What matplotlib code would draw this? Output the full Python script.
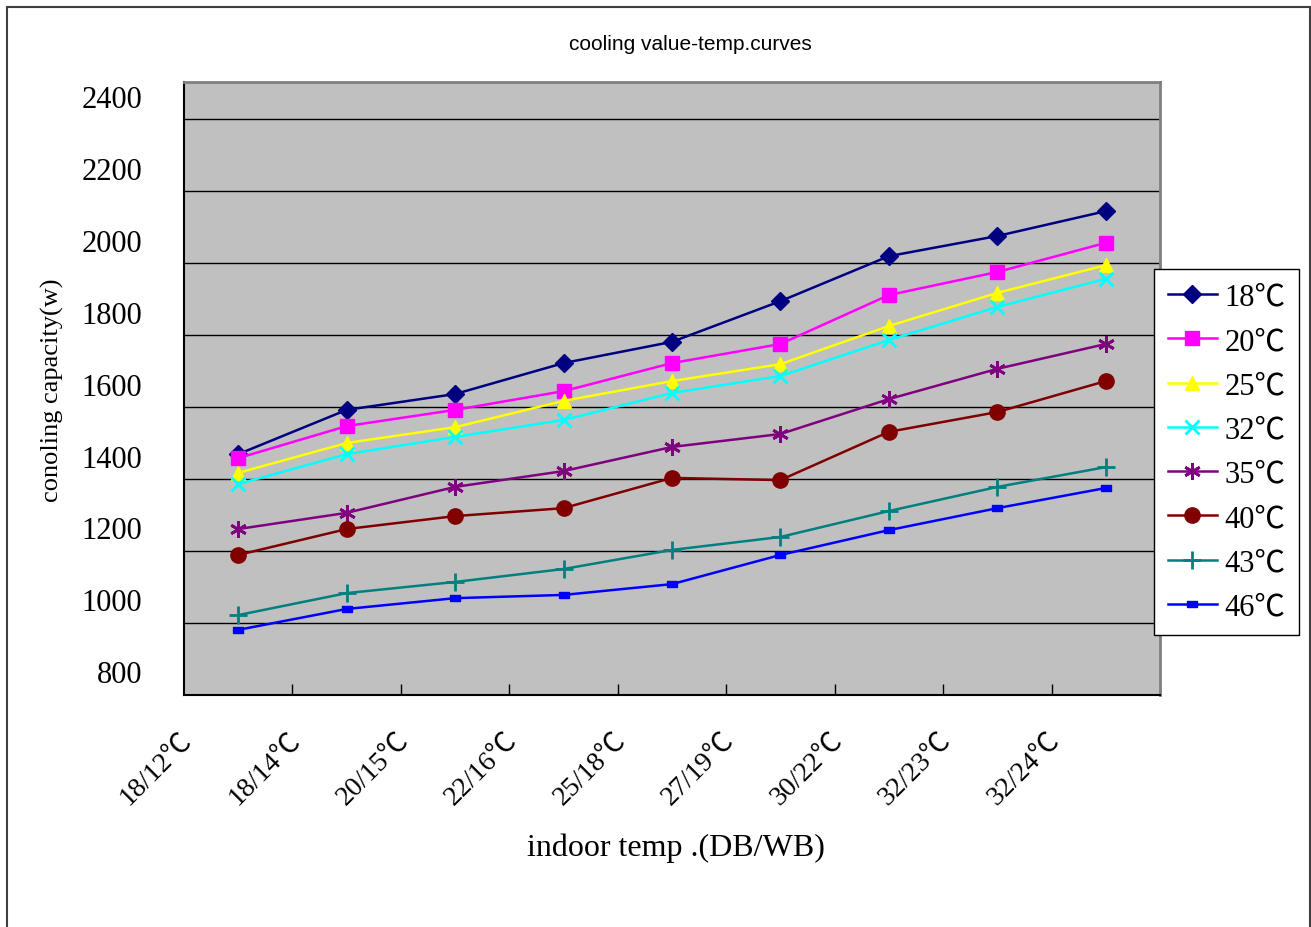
import numpy as np
import matplotlib
matplotlib.use("Agg")
import matplotlib.pyplot as plt
from matplotlib.patches import Rectangle
from matplotlib.transforms import ScaledTranslation

# indoor temp (DB/WB) labels and outdoor temps
x_labels = ["18/12℃", "18/14℃", "20/15℃", "22/16℃", "25/18℃",
            "27/19℃", "30/22℃", "32/23℃", "32/24℃"]
series_names = ["18℃", "20℃", "25℃", "32℃", "35℃", "40℃", "43℃", "46℃"]

cap_18 = [1469, 1592, 1636, 1722, 1781, 1894, 2019, 2075, 2144]
cap_20 = [1458, 1547, 1592, 1644, 1722, 1775, 1911, 1975, 2056]
cap_25 = [1417, 1500, 1544, 1617, 1672, 1719, 1825, 1917, 1994]
cap_32 = [1386, 1469, 1517, 1564, 1639, 1686, 1786, 1878, 1956]
cap_35 = [1261, 1306, 1378, 1422, 1489, 1525, 1622, 1706, 1775]
cap_40 = [1189, 1261, 1297, 1319, 1403, 1397, 1531, 1586, 1672]
cap_43 = [1022, 1083, 1114, 1150, 1203, 1239, 1311, 1378, 1433]
cap_46 = [981, 1039, 1069, 1078, 1108, 1189, 1258, 1319, 1375]

y_ticks = [800, 1000, 1200, 1400, 1600, 1800, 2000, 2200, 2400]

serif = ["Liberation Serif", "Noto Sans CJK SC", "DejaVu Sans"]

rect_marker = [(-1, -0.6), (1, -0.6), (1, 0.6), (-1, 0.6), (-1, -0.6)]
styles = [
    ("#000080", "D", 9, 1),
    ("#FF00FF", "s", 10, 1),
    ("#FFFF00", "^", 10, 1),
    ("#00FFFF", "x", 10, 2),
    ("#800080", (6, 2, 0), 12, 2),
    ("#800000", "o", 11, 1),
    ("#008080", "+", 13, 2),
    ("#0000FF", rect_marker, 7, 1),
]
all_series = [cap_18, cap_20, cap_25, cap_32, cap_35, cap_40, cap_43, cap_46]

fig = plt.figure(figsize=(13.11, 9.28), dpi=100)
ax = fig.add_axes([184/1311, 1-696/928, 976/1311, 613/928])
ax.set_facecolor("#C0C0C0")

x = np.arange(len(x_labels))
for vals, name, (col, mk, ms, mew) in zip(all_series, series_names, styles):
    ax.plot(x, vals, color=col, lw=1.8, marker=mk, ms=ms, mew=mew,
            mec=col, mfc=col, label=name)

ax.set_xlim(-0.5, 8.5)
ax.set_ylim(800, 800 + 613*200/72)

# gridlines
ax.set_yticks(y_ticks)
ax.set_yticklabels([])
ax.tick_params(axis="y", length=0)
ax.grid(axis="y", color="black", lw=1)
ax.set_axisbelow(True)

# y labels sit above their gridlines
off = ScaledTranslation(0, 20/100, fig.dpi_scale_trans)
for v in y_ticks:
    ax.text(-42/976, v, str(v), transform=ax.get_yaxis_transform() + off,
            ha="right", va="center", fontsize=22, family=serif)

# x ticks
ax.set_xticks(x - 0.38)
ax.set_xticklabels(x_labels, rotation=45, ha="right", va="top",
                   fontsize=20, family=serif)
ax.tick_params(axis="x", which="major", length=0, pad=23)
ax.set_xticks(np.arange(0.5, 8, 1), minor=True)
ax.tick_params(axis="x", which="minor", direction="in", length=8,
               width=1, color="black")

for s in ["left", "bottom"]:
    ax.spines[s].set_color("black")
    ax.spines[s].set_linewidth(1.5)
for s in ["top", "right"]:
    ax.spines[s].set_color("#808080")
    ax.spines[s].set_linewidth(2)

leg = fig.legend(loc="upper left", bbox_to_anchor=(1154/1311, 1-270/928),
                 bbox_transform=fig.transFigure, frameon=True, fancybox=False,
                 prop={"family": serif, "size": 22}, handlelength=1.6,
                 handletextpad=0.25, labelspacing=0.5, borderpad=0.45,
                 borderaxespad=0)
leg.get_frame().set_edgecolor("black")
leg.get_frame().set_linewidth(1)
leg.get_frame().set_alpha(1)

fig.text(690/1311, 1-45/928, "cooling value-temp.curves", ha="center",
         va="center", fontsize=15, family="Liberation Sans")
fig.text(52/1311, 1-390/928, "conoling capacity(w)", rotation=90,
         ha="center", va="center", fontsize=19, family=serif)
fig.text(676/1311, 1-848/928, "indoor temp .(DB/WB)", ha="center",
         va="center", fontsize=23, family=serif)

fig.patches.append(Rectangle((7/1311, -0.02), 1303/1311, 1-8/928+0.02,
                             transform=fig.transFigure, fill=False,
                             edgecolor="#404040", lw=1.5))

fig.savefig("out.png", dpi=100)
